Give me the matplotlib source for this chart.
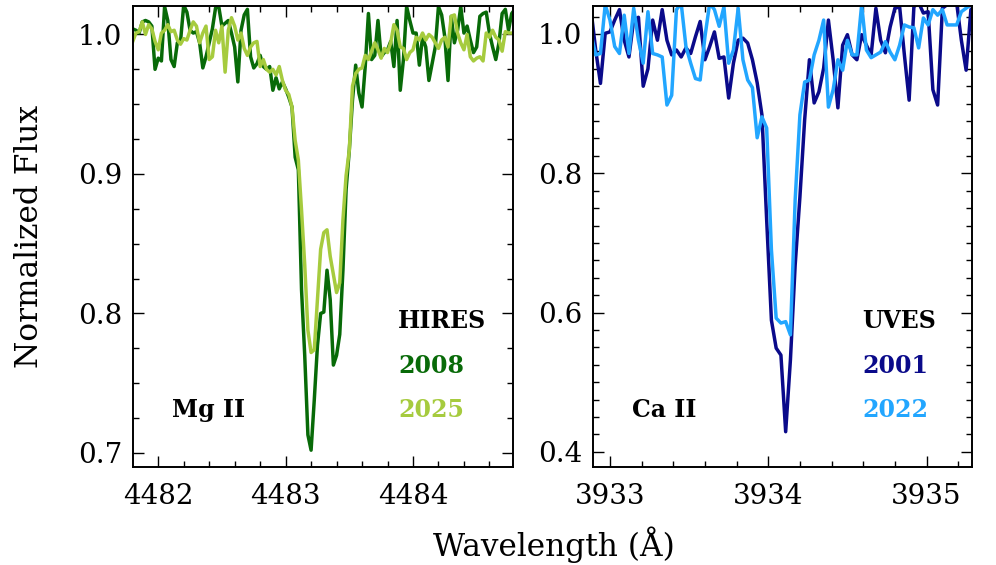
import numpy as np
import matplotlib
matplotlib.use('Agg')
import matplotlib.pyplot as plt
import matplotlib.ticker as tk
from matplotlib import rc
rc('font', family='serif')
rc('font', serif=['DejaVu Serif'])
params = {'axes.labelsize': 21,
          'xtick.labelsize': 20,
          'ytick.labelsize': 20}
plt.rcParams.update(params)

#---------------colors---------------------
c_hires08 = '#086a08'
c_hires25 = '#a6cb3e'
c_uves01 = '#0a0a8a'
c_uves22 = '#22a6ff'

#---------------data---------------------
# Mg II 4481 (HIRES), wavelength grid start / step in Angstrom
mg_wl0, mg_dwl = 4481.80, 0.025
mg_2008 = [1.004, 1.003, 1.001, 1.009, 1.010, 1.009, 1.006, 0.975, 0.983, 0.981,
           1.020, 1.010, 0.982, 0.977, 0.994, 0.995, 1.021, 1.016, 1.003, 1.001,
           1.002, 0.994, 0.976, 0.984, 0.994, 1.004, 1.019, 1.020, 1.006, 1.008,
           1.010, 1.001, 0.991, 0.966, 1.003, 1.014, 1.018, 0.984, 0.976, 0.979,
           0.985, 0.977, 0.975, 0.977, 0.960, 0.969, 0.961, 0.966, 0.961, 0.955,
           0.948, 0.912, 0.903, 0.817, 0.770, 0.713, 0.702, 0.738, 0.777, 0.800,
           0.801, 0.831, 0.810, 0.763, 0.770, 0.785, 0.831, 0.889, 0.917, 0.953,
           0.978, 0.958, 0.948, 0.977, 1.015, 0.982, 0.985, 1.010, 0.984, 0.987,
           0.989, 0.995, 0.977, 1.010, 0.960, 0.982, 1.020, 1.010, 1.001, 1.001,
           0.978, 0.998, 0.991, 0.967, 0.979, 0.991, 1.020, 1.014, 0.998, 0.967,
           1.013, 0.994, 1.003, 1.020, 1.001, 1.006, 0.996, 0.987, 0.991, 1.013,
           1.015, 1.016, 1.001, 0.991, 0.982, 0.994, 1.015, 1.018, 1.003, 1.015,
           1.018]
mg_2025 = [0.995, 1.001, 1.002, 1.009, 1.000, 1.007, 1.004, 0.995, 0.989, 1.001,
           1.003, 1.007, 1.002, 1.003, 0.996, 0.993, 0.997, 0.996, 1.003, 1.009,
           1.006, 0.994, 1.001, 1.006, 0.982, 0.984, 1.003, 0.994, 1.006, 0.973,
           1.003, 1.012, 1.006, 0.996, 1.001, 0.990, 0.985, 0.991, 0.994, 0.995,
           0.977, 0.982, 0.975, 0.973, 0.975, 0.971, 0.977, 0.967, 0.960, 0.957,
           0.948, 0.924, 0.910, 0.874, 0.835, 0.788, 0.772, 0.774, 0.810, 0.846,
           0.858, 0.860, 0.841, 0.828, 0.815, 0.822, 0.867, 0.899, 0.917, 0.963,
           0.972, 0.975, 0.976, 0.985, 0.982, 0.988, 0.994, 0.989, 0.983, 0.990,
           0.987, 0.994, 1.007, 1.003, 0.991, 0.990, 0.982, 0.987, 0.989, 0.998,
           0.996, 1.001, 0.996, 1.000, 0.998, 0.994, 0.990, 0.996, 0.998, 0.991,
           1.013, 1.014, 1.001, 0.994, 0.989, 1.000, 0.984, 0.981, 0.983, 0.984,
           0.981, 1.001, 0.998, 1.003, 0.998, 0.996, 0.988, 1.002, 1.001, 1.001,
           1.001]

# Ca II K (UVES)
ca_wl0, ca_dwl = 3932.88, 0.03
ca_2001 = [1.035, 0.977, 0.929, 1.001, 1.003, 1.020, 1.035, 0.991, 0.967, 1.020,
           1.024, 0.925, 0.950, 1.020, 0.991, 1.035, 0.991, 0.970, 0.977, 0.967,
           0.980, 0.972, 0.996, 1.018, 0.963, 0.982, 1.003, 0.965, 0.967, 0.908,
           0.958, 0.991, 0.994, 0.987, 0.963, 0.930, 0.884, 0.733, 0.589, 0.549,
           0.539, 0.429, 0.532, 0.668, 0.766, 0.877, 0.963, 0.901, 0.917, 0.951,
           1.020, 0.963, 0.894, 0.984, 0.999, 0.970, 0.963, 0.999, 0.984, 0.970,
           1.037, 0.991, 0.973, 1.010, 1.037, 1.039, 0.970, 0.905, 1.039, 1.045,
           1.030, 1.032, 0.920, 0.898, 1.037, 1.042, 1.043, 1.045, 0.991, 0.948,
           1.035, 1.042]
ca_2022 = [1.001, 0.970, 0.972, 1.042, 1.020, 0.982, 0.972, 1.027, 0.972, 1.037,
           0.991, 0.958, 1.032, 0.972, 0.970, 0.967, 0.898, 0.912, 1.035, 1.044,
           0.982, 0.958, 0.936, 0.934, 0.996, 1.044, 1.035, 1.011, 1.039, 0.958,
           0.977, 1.037, 0.963, 0.934, 0.923, 0.851, 0.881, 0.865, 0.690, 0.592,
           0.585, 0.587, 0.568, 0.762, 0.884, 0.931, 0.934, 0.970, 0.991, 1.020,
           0.895, 0.920, 0.963, 0.948, 0.991, 0.970, 0.970, 1.042, 0.977, 0.966,
           0.970, 0.974, 0.989, 0.974, 0.963, 0.984, 1.013, 1.010, 1.009, 0.980,
           1.023, 1.013, 1.035, 1.027, 1.035, 1.013, 1.013, 1.013, 1.032, 1.037,
           1.042, 1.042]

mg_wl = mg_wl0 + mg_dwl*np.arange(len(mg_2008))
ca_wl = ca_wl0 + ca_dwl*np.arange(len(ca_2001))


def style_axis(ax, ymaj, ymin):
    ax.xaxis.set_major_locator(tk.MultipleLocator(1))
    ax.xaxis.set_minor_locator(tk.MultipleLocator(0.2))
    ax.yaxis.set_major_locator(tk.MultipleLocator(ymaj))
    ax.yaxis.set_minor_locator(tk.MultipleLocator(ymin))
    ax.xaxis.set_major_formatter(tk.FormatStrFormatter('%d'))
    ax.yaxis.set_major_formatter(tk.FormatStrFormatter('%.1f'))
    ax.tick_params(which='both', direction='in', top=True, right=True, width=1.0)
    ax.tick_params(which='major', length=8)
    ax.tick_params(which='minor', length=4.5)
    ax.tick_params(axis='x', pad=12)
    ax.tick_params(axis='y', pad=8)
    for sp in ax.spines.values():
        sp.set_linewidth(1.4)


fig = plt.figure(figsize=(9.96, 5.65), dpi=100)
ax1 = fig.add_axes([0.1338, 0.1743, 0.3815, 0.8156])
ax2 = fig.add_axes([0.5954, 0.1743, 0.3808, 0.8156])

# Mg II panel
ax1.plot(mg_wl, mg_2008, color=c_hires08, lw=2.5)
ax1.plot(mg_wl, mg_2025, color=c_hires25, lw=2.5)
ax1.set_xlim(4481.804, 4484.787)
ax1.set_ylim(0.6903, 1.0206)
style_axis(ax1, 0.1, 0.025)

tkw = dict(transform=ax1.transAxes, fontsize=17, fontweight='bold', va='center', ha='left')
ax1.text(0.697, 0.316, 'HIRES', color='k', **tkw)
ax1.text(0.697, 0.218, '2008', color=c_hires08, **tkw)
ax1.text(0.697, 0.123, '2025', color=c_hires25, **tkw)
ax1.text(0.102, 0.123, 'Mg II', color='k', **tkw)

# Ca II panel
ax2.plot(ca_wl, ca_2001, color=c_uves01, lw=2.5)
ax2.plot(ca_wl, ca_2022, color=c_uves22, lw=2.5)
ax2.set_xlim(3932.893, 3935.289)
ax2.set_ylim(0.379, 1.0406)
style_axis(ax2, 0.2, 0.025)

tkw['transform'] = ax2.transAxes
ax2.text(0.709, 0.316, 'UVES', color='k', **tkw)
ax2.text(0.709, 0.218, '2001', color=c_uves01, **tkw)
ax2.text(0.709, 0.123, '2022', color=c_uves22, **tkw)
ax2.text(0.103, 0.123, 'Ca II', color='k', **tkw)

fig.text(0.030, 0.582, 'Normalized Flux', rotation=90, fontsize=22.5, ha='center', va='center')
fig.text(0.556, 0.035, 'Wavelength (Å)', fontsize=22.5, ha='center', va='center')

plt.savefig('out.png', dpi=100)
